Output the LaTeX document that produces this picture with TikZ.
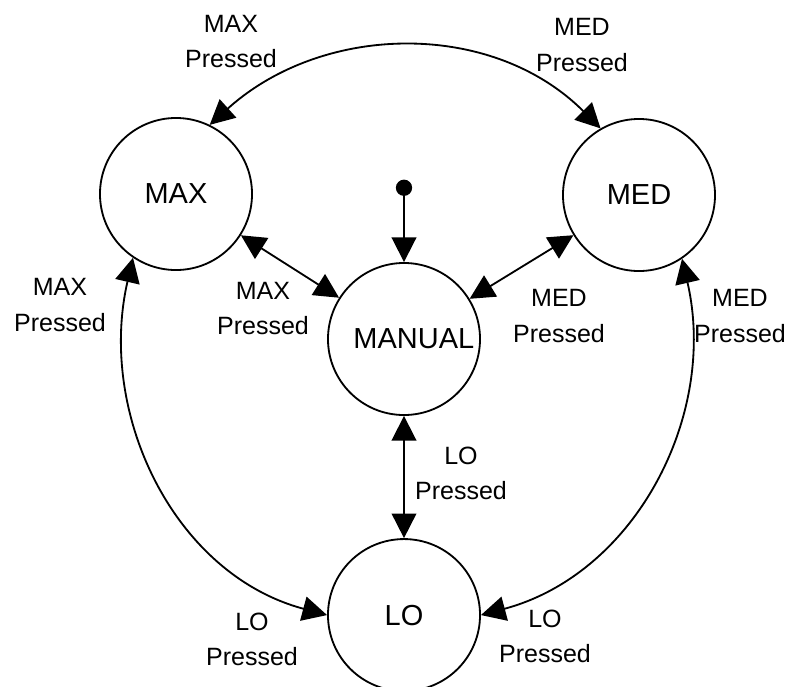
\documentclass[tikz,border=0pt]{standalone}
\usepackage{fontspec}
\setmainfont{Liberation Sans}
\usepackage{tikz}
\usetikzlibrary{positioning}
\usetikzlibrary{arrows.meta}
\newcommand{\statefont}{\fontsize{20.6pt}{24pt}\selectfont}
\newcommand{\condfont}{\fontsize{17.8pt}{24.9pt}\selectfont}
\tikzstyle{state} = [draw, circle, line width=1.3pt, minimum size=3.8cm, inner sep=0pt, font=\statefont]
\tikzstyle{init} = [draw, fill, circle, inner sep=0pt, minimum size=0.36cm]
\tikzstyle{cond} = [align=center, inner sep=0pt, font=\condfont]

\begin{document}
\begin{tikzpicture}[auto,x=0.025cm,y=0.025cm,line width=1.3pt,>={Triangle[length=17.5pt,width=17.5pt]}]%[node distance in px]
    \useasboundingbox (0,0) rectangle (788,-686);
    \node [state, name=manual] at (404,-339) {\hspace{14pt}MANUAL};
    \node [state, name=max] at (176,-194) {MAX};
    \node [state, name=med] at (639,-195) {MED};
    \node [state, below of=manual, node distance=6.9cm] (lo) {LO};
    \node [init, above of=manual, node distance=3.78cm] (start) {};

    \node [cond, name=c1] at (231,-41.5) {MAX\\Pressed};
    \node [cond, name=c2] at (582,-45) {MED\\Pressed};
    \node [cond, name=c3] at (263,-308.5) {MAX\\Pressed};
    \node [cond, name=c4] at (60,-305) {MAX\\Pressed};
    \node [cond, name=c5] at (559,-316) {MED\\Pressed};
    \node [cond, name=c6] at (740,-316) {MED\\Pressed};
    \node [cond, name=c7] at (461,-473) {LO\\Pressed};
    \node [cond, name=c8] at (252,-639.5) {LO\\Pressed};
    \node [cond, name=c9] at (545,-636) {LO\\Pressed};

    \draw [->] (start) -- (manual);
    \draw [<->] (max) -- (manual);
    \draw [<->] (med) -- (manual);
    \draw [<->] (manual) -- (lo);
    \draw [<->] (max.64) to[out=42,in=135] (med.120);
    \draw [<->] (max.-124) to[out=-103,in=165] (lo.180);
    \draw [<->] (med.-56) to[out=-77,in=15] (lo.0);
\end{tikzpicture}
\end{document}
